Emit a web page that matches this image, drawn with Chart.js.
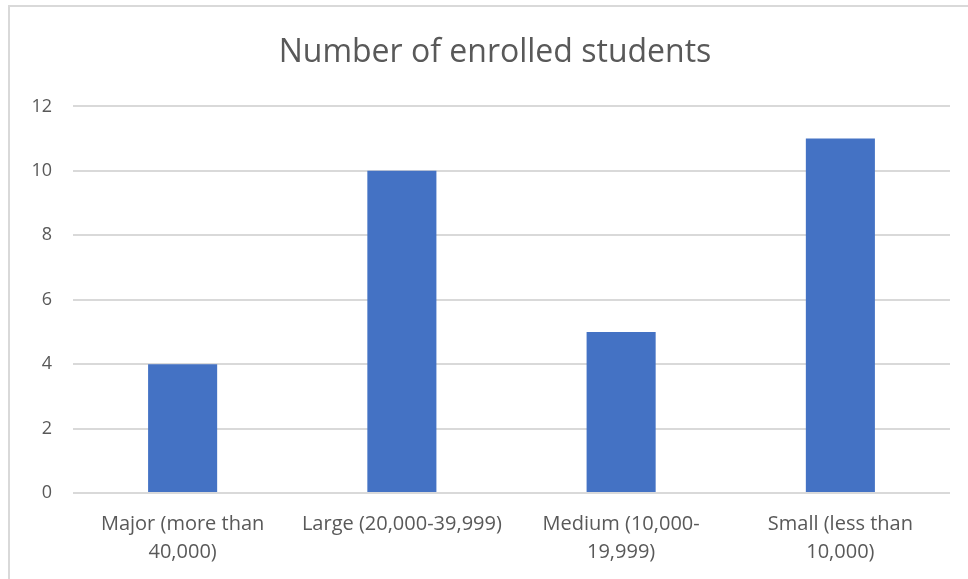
<!DOCTYPE html>
<html lang="en">
	<head>
		<meta charset="UTF-8" />
		<title>Number of enrolled students</title>
		<script src="https://cdn.jsdelivr.net/npm/chart.js@4.4.3/dist/chart.umd.min.js"></script>
		<style>
			html,
			body {
				margin: 0;
				padding: 0;
				background: #ffffff;
				overflow: hidden;
			}
			.frame {
				position: absolute;
				left: 8px;
				top: 5px;
				width: 1000px;
				height: 620px;
				border: 2px solid #d9d9d9;
			}
			.chartContainer {
				position: absolute;
				left: 0;
				top: 0;
				width: 968px;
				height: 579px;
			}
		</style>
	</head>
	<body>
		<div class="frame"></div>
		<div class="chartContainer">
			<canvas id="enrolledChart"></canvas>
		</div>

		<script>
			// chart data
			const categories = [
				["Major (more than", "40,000)"],
				["Large (20,000-39,999)"],
				["Medium (10,000-", "19,999)"],
				["Small (less than", "10,000)"],
			];
			const enrolled = [4, 10, 5, 11];
			const yTicks = [0, 2, 4, 6, 8, 10, 12];

			const textColor = "#595959";
			const gridColor = "#d9d9d9";
			const fontFamily = "'Open Sans', 'Liberation Sans', sans-serif";

			// nudge the title a bit right, the original centres it on the whole frame
			const titleShift = {
				id: "titleShift",
				afterLayout(chart) {
					chart.titleBlock.left += 16;
					chart.titleBlock.right += 16;
				},
			};

			const ctx = document.getElementById("enrolledChart").getContext("2d");

			const enrolledChart = new Chart(ctx, {
				type: "bar",
				data: {
					labels: categories,
					datasets: [
						{
							label: "Number of enrolled students",
							data: enrolled,
							backgroundColor: "#4472c4",
							borderWidth: 0,
							categoryPercentage: 1,
							barPercentage: 0.315,
						},
					],
				},
				options: {
					responsive: true,
					maintainAspectRatio: false,
					animation: false,
					layout: {
						padding: { left: 8, right: 18, top: 0, bottom: 0 },
					},
					plugins: {
						legend: { display: false },
						tooltip: { enabled: false },
						title: {
							display: true,
							text: "Number of enrolled students",
							color: textColor,
							font: { family: fontFamily, size: 32, weight: "normal" },
							padding: { top: 34, bottom: 34 },
						},
					},
					scales: {
						x: {
							grid: { display: false, drawTicks: false },
							border: { display: false },
							ticks: {
								color: textColor,
								font: { family: fontFamily, size: 20, lineHeight: 1.4 },
								padding: 17,
								maxRotation: 0,
								autoSkip: false,
							},
							afterFit: (scale) => {
								scale.height = 86;
							},
						},
						y: {
							min: 0,
							max: 12,
							afterBuildTicks: (scale) => {
								scale.ticks = yTicks.map((v) => ({ value: v }));
							},
							grid: { color: gridColor, lineWidth: 2, drawTicks: false },
							border: { display: false },
							ticks: {
								color: textColor,
								font: { family: fontFamily, size: 18 },
								padding: 21,
							},
							afterFit: (scale) => {
								scale.width = 65;
							},
						},
					},
				},
				plugins: [titleShift],
			});
		</script>
	</body>
</html>
